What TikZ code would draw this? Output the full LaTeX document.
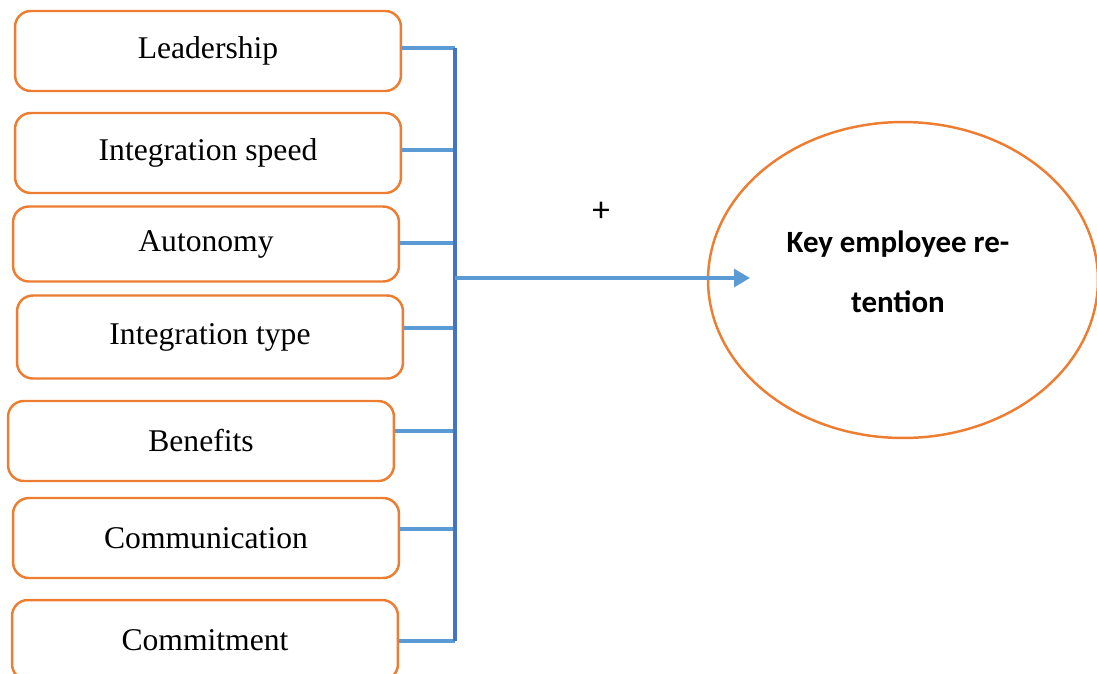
\documentclass[tikz,border=0pt]{standalone}
\usepackage{fontspec}
\setmainfont{Liberation Serif}
\newfontfamily\keyfont{Carlito}
\usetikzlibrary{arrows.meta, shapes.geometric}
\definecolor{boxorange}{RGB}{237,125,49}
\definecolor{barblue}{RGB}{68,114,196}
\definecolor{stubblue}{RGB}{91,155,213}

\begin{document}
\begin{tikzpicture}[x=0.02cm, y=-0.02cm,
    factor/.style={draw=boxorange, line width=1.4pt, rounded corners=9pt,
      minimum width=7.72cm, minimum height=1.6cm, font=\fontsize{18}{22}\selectfont},
    stub/.style={stubblue, line width=2pt}]
  \useasboundingbox (0,0) rectangle (1097,673);

  \node[factor] (lead)   at (208,51)    {Leadership};
  \node[factor] (speed)  at (208,153)   {Integration speed};
  \node[factor, minimum height=1.5cm] (auto) at (206,244) {Autonomy};
  \node[factor, minimum height=1.66cm] (type) at (210,337) {Integration type};
  \node[factor] (bene)   at (201,441)   {Benefits};
  \node[factor] (comm)   at (206,538)   {Communication};
  \node[factor] (commit) at (205,640)   {Commitment};

  \foreach \n/\y in {lead/48, speed/150, auto/243, type/328, bene/431, comm/529, commit/641}{
    \coordinate (j-\n) at (455,\y);
    \draw[stub] (\n.east |- j-\n) -- (j-\n);
  }
  \draw[barblue, line width=2pt] (j-lead) -- (j-commit);

  \node[draw=boxorange, line width=1.4pt, ellipse, inner sep=0pt,
    minimum width=7.8cm, minimum height=6.32cm] (ret) at (903,280) {};
  \node[align=center, font=\keyfont\bfseries\fontsize{17.6}{34}\selectfont]
    (retlabel) at (898,272) {Key employee re-\\tention};

  \coordinate (j-out) at (455,278);
  \coordinate (tip) at (750,278);
  \draw[stub, -{Triangle[length=9pt, width=10pt]}] (j-out) -- (tip);
  \node[font=\keyfont\fontsize{20}{22}\selectfont] (plus) at (601,212) {+};
\end{tikzpicture}
\end{document}
